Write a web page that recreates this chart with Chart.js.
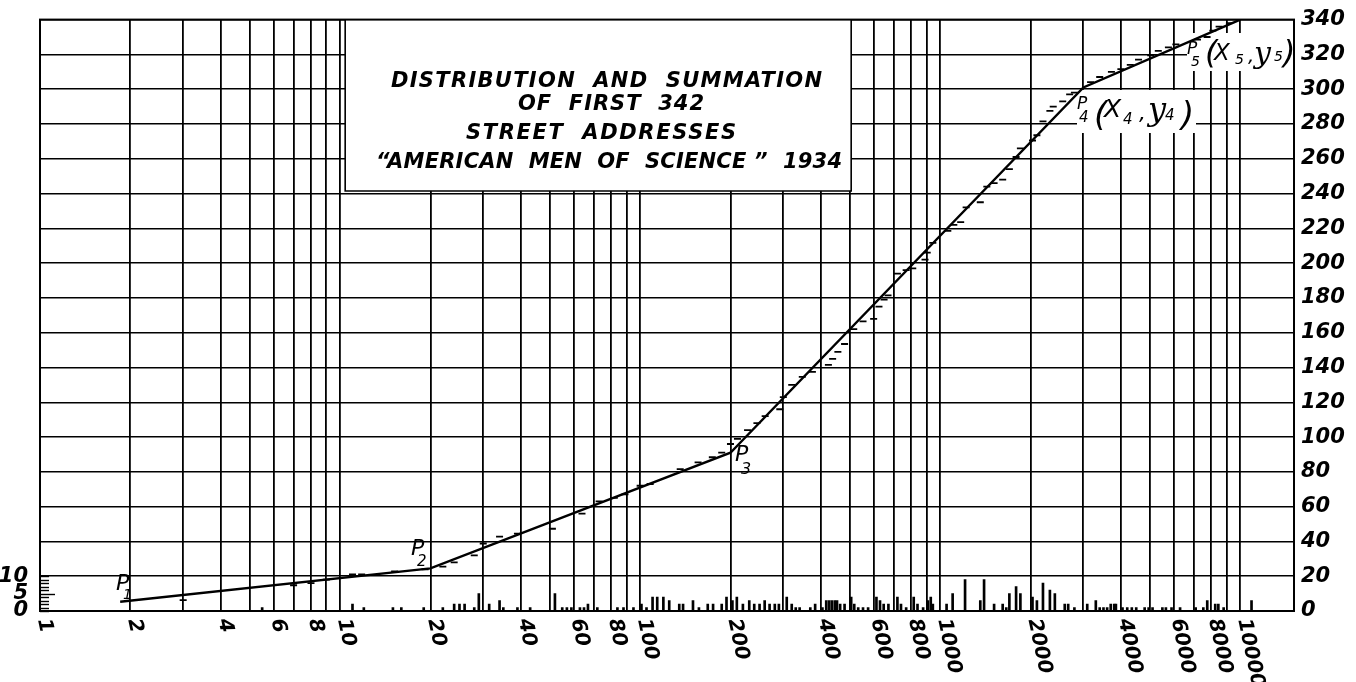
<!DOCTYPE html>
<html>
<head>
<meta charset="utf-8">
<script src="https://cdn.jsdelivr.net/npm/chart.js@4.4.1/dist/chart.umd.min.js"></script>
<style>
  html, body { margin: 0; padding: 0; background: #fff; }
  canvas { display: block; }
</style>
</head>
<body>
<canvas id="chart" width="1356" height="682"></canvas>
<script>
// straight-line fit through P1 .. P5 (right scale, cumulative count)
const fitX = [1.85, 20, 200, 3000, 10000];
const fitY = [5.3, 24.5, 91, 301, 340];

// summation marks (short dashes)
const sumX = [3, 7, 8, 9, 11, 11.8, 15.2, 19.2, 22, 24, 28, 30, 34, 39, 51, 64, 73, 82, 89, 100,
  108, 136, 156, 174, 187, 200, 211, 228, 245, 261, 292, 300, 320, 347, 375, 424, 438, 456, 480, 515,
  553, 600, 625, 650, 670, 720, 770, 810, 890, 905, 945, 1060, 1110, 1170, 1220, 1360, 1430, 1512, 1615, 1700,
  1790, 1850, 2030, 2100, 2200, 2320, 2380, 2560, 2700, 2800, 3170, 3400, 3720, 4000, 4300, 4580, 5030, 5330, 5760, 6100,
  7200, 7750, 8100, 8500, 9200];
const sumY = [6.3, 14.8, 16, 18, 21, 21, 22.8, 24, 25.5, 28, 32, 38.8, 42.8, 44.5, 47.3, 56, 63, 65, 67, 72,
  73, 81.6, 85.5, 88.4, 91, 96, 99, 104, 108, 112, 116, 123, 130, 134.6, 137.5, 141.5, 145, 149, 153.5, 162,
  166.5, 168, 175, 179, 181.5, 194, 196, 197, 202, 206, 211.6, 218.5, 222, 223.6, 232, 235, 244, 246, 248, 254,
  261, 266, 270.5, 273.5, 281.5, 287.5, 290, 293, 297, 298, 304, 307, 310, 311.5, 314, 317, 319.5, 322, 324, 325.7,
  328.5, 330, 333.7, 336, 338];

// distribution (left scale 0..10)
const barX = [5.5, 11, 12, 15, 16, 19, 22, 24, 25, 26, 28, 29, 31.4, 34, 35, 39, 43, 52, 55, 57,
  59, 63, 65, 67, 72, 84, 88, 95, 101, 105, 110, 114, 119.5, 125, 135, 139, 150, 157, 168, 175,
  187, 194, 203, 210, 220, 231, 240, 250, 260, 270, 281, 290, 308, 320, 330, 340, 369, 383, 405, 417,
  426, 435, 445, 453, 464, 480, 505, 517, 533, 553, 575, 613, 630, 648, 672, 720, 740, 770, 816, 840,
  877, 910, 930, 945, 1050, 1100, 1210, 1360, 1400, 1512, 1615, 1660, 1700, 1790, 1850, 2030, 2100, 2200, 2320, 2410,
  2600, 2670, 2800, 3090, 3300, 3400, 3500, 3600, 3700, 3800, 3850, 4050, 4200, 4350, 4500, 4800, 4950, 5100, 5500, 5650,
  5900, 6300, 7100, 7530, 7760, 8250, 8450, 8800, 10900];
const barN = [1, 2, 1, 1, 1, 1, 1, 2, 2, 2, 1, 5, 2, 3, 1, 1, 1, 5, 1, 1,
  1, 1, 1, 2, 1, 1, 1, 1, 2, 1, 4, 4, 4, 3, 2, 2, 3, 1, 2, 2,
  2, 4, 3, 4, 2, 3, 2, 2, 3, 2, 2, 2, 4, 2, 1, 1, 1, 2, 1, 3,
  3, 3, 3, 3, 2, 2, 4, 2, 1, 1, 1, 4, 3, 2, 2, 4, 2, 1, 4, 2,
  1, 3, 4, 2, 2, 5, 9, 3, 9, 2, 2, 1, 5, 7, 5, 4, 3, 8, 6, 5,
  2, 2, 1, 2, 3, 1, 1, 1, 2, 2, 2, 1, 1, 1, 1, 1, 1, 1, 1, 1,
  1, 1, 1, 1, 3, 2, 2, 1, 3];

// tick labels
const xLabels = [1, 2, 4, 6, 8, 10, 20, 40, 60, 80, 100, 200, 400, 600, 800, 1000, 2000, 4000, 6000, 8000, 10000];
const leftLabels = [0, 5, 10];
const titleLines = ['DISTRIBUTION  AND  SUMMATION', 'OF  FIRST  342', 'STREET  ADDRESSES', '“AMERICAN  MEN  OF  SCIENCE ”  1934'];

// log grid 1..9 x 10^k
const gridX = [];
for (let k = 1; k <= 10000; k *= 10) {
  for (let m = 1; m <= 9; m++) {
    if (m * k <= 10000) gridX.push(m * k);
  }
}

const ink = '#000';
const letterFont = '"DejaVu Sans", "Liberation Sans", sans-serif';

function spreadText(c, text, x0, x1, y) {
  c.textAlign = 'left';
  if ('letterSpacing' in c) {
    c.letterSpacing = '0px';
    const w = c.measureText(text).width;
    c.letterSpacing = ((x1 - x0 - w) / (text.length - 1)) + 'px';
    c.fillText(text, x0, y);
    c.letterSpacing = '0px';
  } else {
    const w = c.measureText(text).width;
    c.save();
    c.translate(x0, y);
    c.scale((x1 - x0) / w, 1);
    c.fillText(text, 0, 0);
    c.restore();
  }
}

function glyph(c, t, x, y, size, fam) {
  c.font = 'italic ' + size + 'px ' + (fam || letterFont);
  c.fillText(t, x, y);
}

const sheet = {
  id: 'sheet',
  beforeDatasetsDraw(chart) {
    const c = chart.ctx;
    const a = chart.chartArea;
    const x = chart.scales.x, y = chart.scales.y;
    c.save();
    // title box
    const bx0 = x.getPixelForValue(10.4), bx1 = x.getPixelForValue(505);
    const by1 = y.getPixelForValue(241.5);
    c.fillStyle = '#fff';
    c.fillRect(bx0, a.top, bx1 - bx0, by1 - a.top);
    c.strokeStyle = ink;
    c.lineWidth = 1.6;
    c.beginPath();
    c.moveTo(bx0, a.top); c.lineTo(bx0, by1); c.lineTo(bx1, by1); c.lineTo(bx1, a.top);
    c.stroke();
    c.fillStyle = ink;
    c.textBaseline = 'alphabetic';
    c.font = 'italic bold 21px ' + letterFont;
    const spans = [[391, 822, 87], [518, 704, 110], [466, 736, 139], [376, 842, 168]];
    titleLines.forEach((t, i) => spreadText(c, t, spans[i][0], spans[i][1], spans[i][2]));
    // white grounds behind P4 and P5 labels
    c.fillStyle = '#fff';
    c.fillRect(1077, 90, 119, 43);
    c.fillRect(1187, 33, a.right - 1188, 38);
    c.restore();
  },
  afterDatasetsDraw(chart) {
    const c = chart.ctx;
    const a = chart.chartArea;
    const x = chart.scales.x, yL = chart.scales.yL;
    c.save();
    c.strokeStyle = ink;
    c.lineWidth = 2;
    c.strokeRect(a.left, a.top, a.right - a.left, a.bottom - a.top);
    // small unit marks of the distribution scale
    c.lineWidth = 1.4;
    for (let v = 0; v <= 10; v++) {
      const py = Math.round(yL.getPixelForValue(v)) + 0.5;
      c.beginPath();
      c.moveTo(a.left, py);
      c.lineTo(a.left + (v === 5 ? 15 : 9), py);
      c.stroke();
    }
    // x labels, turned clockwise
    c.fillStyle = ink;
    c.font = 'italic bold 20px ' + letterFont;
    c.textAlign = 'left';
    c.textBaseline = 'middle';
    xLabels.forEach(v => {
      const px = x.getPixelForValue(v) + 3;
      c.save();
      c.translate(px, a.bottom + 8);
      c.rotate(78 * Math.PI / 180);
      c.fillText(String(v), 0, 0);
      c.restore();
    });
    // point labels
    c.textBaseline = 'alphabetic';
    glyph(c, 'P', 116, 590, 22); glyph(c, '1', 123, 599, 14);
    glyph(c, 'P', 411, 555, 22); glyph(c, '2', 417, 566, 15);
    glyph(c, 'P', 735, 461, 22); glyph(c, '3', 741, 474, 16);
    glyph(c, 'P', 1077, 109, 17); glyph(c, '4', 1079, 122, 15);
    glyph(c, '(', 1094, 126, 34, '"DejaVu Sans"');
    glyph(c, 'X', 1104, 117, 25); glyph(c, '4', 1123, 124, 15);
    glyph(c, ',', 1139, 120, 22);
    glyph(c, 'y', 1148, 120, 32, '"DejaVu Serif"'); glyph(c, '4', 1165, 120, 15);
    glyph(c, ')', 1181, 126, 34, '"DejaVu Sans"');
    glyph(c, 'P', 1187, 54, 17); glyph(c, '5', 1191, 66, 14);
    glyph(c, '(', 1205, 63, 32, '"DejaVu Sans"');
    glyph(c, 'X', 1214, 60, 23); glyph(c, '5', 1235, 64, 14);
    glyph(c, ',', 1248, 62, 20);
    glyph(c, 'y', 1254, 63, 30, '"DejaVu Serif"'); glyph(c, '5', 1274, 61, 14);
    glyph(c, ')', 1283, 63, 32, '"DejaVu Sans"');
    c.restore();
  }
};

const chart = new Chart(document.getElementById('chart'), {
  type: 'line',
  data: {
    datasets: [
      {
        type: 'bar',
        data: barX.map((v, i) => ({ x: v, y: barN[i] })),
        yAxisID: 'yL',
        backgroundColor: ink,
        barThickness: 2,
        grouped: false,
        order: 3
      },
      {
        type: 'line',
        data: sumX.map((v, i) => ({ x: v, y: sumY[i] })),
        yAxisID: 'y',
        showLine: false,
        pointStyle: 'line',
        pointRadius: 3.5,
        pointBorderWidth: 1.8,
        pointBorderColor: ink,
        order: 2
      },
      {
        type: 'line',
        data: fitX.map((v, i) => ({ x: v, y: fitY[i] })),
        yAxisID: 'y',
        borderColor: ink,
        borderWidth: 2.4,
        pointRadius: 0,
        tension: 0,
        order: 1
      }
    ]
  },
  options: {
    responsive: false,
    animation: false,
    devicePixelRatio: 1,
    layout: { padding: { top: 15, left: 0, right: 0, bottom: 0 } },
    plugins: { legend: { display: false }, tooltip: { enabled: false } },
    scales: {
      x: {
        type: 'logarithmic',
        position: 'bottom',
        offset: false,
        min: 1,
        max: 15100,
        afterBuildTicks: s => { s.ticks = gridX.map(v => ({ value: v })); },
        afterFit: s => { s.height = 71; },
        ticks: { display: false },
        grid: { color: ink, lineWidth: 1.8, drawTicks: false, offset: false },
        border: { display: false }
      },
      y: {
        position: 'right',
        min: 0,
        max: 340,
        afterFit: s => { s.width = 62; },
        ticks: {
          stepSize: 20,
          color: ink,
          padding: 7,
          font: { family: letterFont, size: 21, style: 'italic', weight: 'bold' }
        },
        grid: { color: ink, lineWidth: 1.5, drawTicks: false },
        border: { display: false }
      },
      yL: {
        position: 'left',
        min: 0,
        max: 170,
        afterBuildTicks: s => { s.ticks = leftLabels.map(v => ({ value: v })); },
        afterFit: s => { s.width = 40; },
        ticks: {
          color: ink,
          padding: 4,
          font: { family: letterFont, size: 21, style: 'italic', weight: 'bold' }
        },
        grid: { display: false },
        border: { display: false }
      }
    }
  },
  plugins: [sheet]
});
</script>
</body>
</html>
